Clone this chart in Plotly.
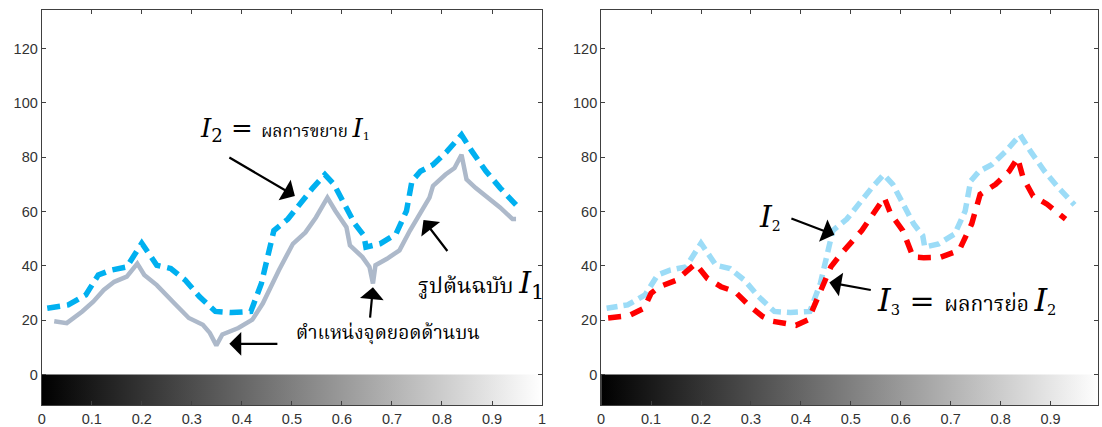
import plotly.graph_objects as go

# ---------------- data ----------------
x_i2 = [0.011, 0.053, 0.088, 0.113, 0.138, 0.170, 0.200, 0.230, 0.258, 0.287, 0.315,
        0.347, 0.379, 0.418, 0.439, 0.464, 0.492, 0.513, 0.541, 0.566, 0.584, 0.605,
        0.626, 0.644, 0.648, 0.676, 0.708, 0.729, 0.740, 0.757, 0.782, 0.810, 0.839,
        0.860, 0.888, 0.916, 0.948]
y_i2 = [24.4, 25.6, 29.3, 36.6, 38.4, 39.6, 48.3, 40.2, 39.0, 34.7, 28.7,
        23.2, 22.8, 23.2, 33.5, 53.0, 57.2, 62.1, 68.5, 73.6, 70.0, 62.7,
        55.4, 51.1, 46.9, 48.1, 51.7, 60.2, 71.2, 74.8, 77.2, 82.1, 88.2,
        82.1, 74.8, 68.7, 62.4]

x_i1 = [0.025, 0.050, 0.081, 0.103, 0.124, 0.145, 0.170, 0.191, 0.205, 0.230, 0.265,
        0.294, 0.322, 0.336, 0.349, 0.361, 0.393, 0.421, 0.442, 0.474, 0.502, 0.527,
        0.548, 0.571, 0.587, 0.609, 0.616, 0.641, 0.655, 0.662, 0.667, 0.690, 0.715,
        0.736, 0.775, 0.782, 0.807, 0.825, 0.839, 0.849, 0.867, 0.892, 0.916, 0.941,
        0.948]
y_i1 = [19.6, 18.9, 23.2, 26.8, 31.1, 34.1, 36.0, 40.8, 36.6, 32.9, 26.2,
        20.8, 18.3, 15.3, 10.7, 14.7, 17.1, 20.2, 26.2, 38.4, 48.1, 52.3,
        57.8, 65.1, 60.2, 54.2, 47.5, 43.2, 39.6, 33.5, 40.2, 42.6, 45.7,
        53.0, 65.1, 69.4, 73.6, 76.0, 80.9, 71.8, 68.7, 65.1, 61.5, 57.2,
        57.2]

x_i3 = [0.014, 0.055, 0.086, 0.100, 0.117, 0.151, 0.189, 0.213, 0.240, 0.268, 0.295,
        0.323, 0.343, 0.390, 0.415, 0.440, 0.460, 0.481, 0.522, 0.567, 0.580, 0.604,
        0.615, 0.625, 0.646, 0.680, 0.717, 0.742, 0.759, 0.790, 0.817, 0.834, 0.845,
        0.865, 0.893, 0.930]
y_i3 = [20.8, 21.6, 24.4, 29.9, 32.3, 34.7, 40.8, 35.3, 32.3, 30.5, 25.6,
        21.4, 19.6, 18.1, 20.2, 31.1, 39.6, 44.5, 53.0, 65.1, 59.0, 53.0,
        48.1, 43.2, 43.0, 43.2, 45.7, 55.4, 66.3, 70.0, 74.8, 79.7, 72.4,
        65.7, 62.7, 57.2]

y_ticks = [0, 20, 40, 60, 80, 100, 120]
x_ticks = [0, 0.1, 0.2, 0.3, 0.4, 0.5, 0.6, 0.7, 0.8, 0.9, 1]
x_tick_labels = ["0", "0.1", "0.2", "0.3", "0.4", "0.5", "0.6", "0.7", "0.8", "0.9", "1"]

bar_x = [0, 1, 1, 0]
bar_y = [0, 0, -12, -12]

# ---------------- styles ----------------
THAI = "Noto Serif Thai, Garuda, Loma, Kinnari, Norasi, Tlwg Typo, Noto Sans Thai, sans-serif"
SERIF = "DejaVu Serif, Liberation Serif, serif"
AXC = "#404040"

fig = go.Figure()

for xa, ya in (("x", "y"), ("x2", "y2")):
    fig.add_trace(go.Scatter(
        x=bar_x, y=bar_y, xaxis=xa, yaxis=ya, mode="none", fill="toself",
        fillgradient=dict(type="horizontal", colorscale=[[0, "#000000"], [1, "#ffffff"]]),
        hoverinfo="skip", showlegend=False))

# left panel
fig.add_trace(go.Scatter(x=x_i1, y=y_i1, mode="lines", xaxis="x", yaxis="y",
                         line=dict(color="#adb9ca", width=4.5), showlegend=False))
fig.add_trace(go.Scatter(x=x_i2, y=y_i2, mode="lines", xaxis="x", yaxis="y",
                         line=dict(color="#00b0f0", width=5.5, dash="13px,7px"), showlegend=False))
# right panel
fig.add_trace(go.Scatter(x=x_i2, y=y_i2, mode="lines", xaxis="x2", yaxis="y2",
                         line=dict(color="#9cdcf7", width=5.5, dash="11px,6px"), showlegend=False))
fig.add_trace(go.Scatter(x=x_i3, y=y_i3, mode="lines", xaxis="x2", yaxis="y2",
                         line=dict(color="#ff0000", width=5.5, dash="13px,10px"), showlegend=False))

axis_common = dict(showline=True, linecolor=AXC, linewidth=1, mirror="ticks",
                   ticks="inside", ticklen=4, tickcolor=AXC, showgrid=False,
                   zeroline=False, tickfont=dict(family="Arial, Liberation Sans", size=14.5, color="#333333"))

ydom = [1 - 409 / 427, 1 - 10 / 427]
yr = [-11.3, 134.2]

fig.update_layout(
    width=1102, height=427,
    margin=dict(l=0, r=0, t=0, b=0),
    paper_bgcolor="white", plot_bgcolor="white",
    xaxis=dict(domain=[38 / 1102, 542 / 1102], range=[0, 1], tickvals=x_ticks,
               ticktext=x_tick_labels, anchor="y", **axis_common),
    yaxis=dict(domain=ydom, range=yr, tickvals=y_ticks, anchor="x", **axis_common),
    xaxis2=dict(domain=[601.5 / 1102, 1], range=[0, 0.995], tickvals=x_ticks,
                ticktext=x_tick_labels, anchor="y2", **axis_common),
    yaxis2=dict(domain=ydom, range=yr, tickvals=y_ticks, anchor="x2", **axis_common),
)

def arrow(xref, yref, x, y, ax, ay):
    fig.add_annotation(x=x, y=y, ax=ax, ay=ay, xref=xref, yref=yref, axref=xref, ayref=yref,
                       text="", showarrow=True, arrowhead=1, arrowsize=1.8, arrowwidth=2.2,
                       arrowcolor="black")

def label(xref, yref, x, y, text):
    fig.add_annotation(x=x, y=y, xref=xref, yref=yref, text=text, showarrow=False,
                       xanchor="center", yanchor="middle",
                       font=dict(family=THAI, color="black", size=16))

def I(sub, size):
    # subscript drawn at 70% of the letter size, lowered
    return f"<span style='font-family:{SERIF};font-size:{size}px'><i>I</i><sub>{sub}</sub></span>"

def Itiny(sub, size, subsize):
    return (f"<span style='font-family:{SERIF};font-size:{size}px'><i>I</i></span>"
            f"<span style='font-family:{SERIF};font-size:{subsize * 1.43:.0f}px'><sub>{sub}</sub></span>")

# left annotations
label("x", "y", 0.487, 90.0,
      I("2", 26) + f"<span style='font-family:{SERIF};font-size:26px'> = </span>"
      + "<span style='font-size:17px'>ผลการขยาย </span>" + Itiny("1", 26, 11))
arrow("x", "y", 0.506, 65.7, 0.372, 80.2)
label("x", "y", 0.877, 33.0,
      "<span style='font-size:22px'>รูปต้นฉบับ </span>" + I("1", 30))
arrow("x", "y", 0.763, 56.9, 0.813, 44.9)
label("x", "y", 0.692, 15.0, "<span style='font-size:19px'>ตำแหน่งจุดยอดด้านบน</span>")
arrow("x", "y", 0.662, 32.1, 0.656, 20.4)
arrow("x", "y", 0.375, 11.3, 0.474, 11.3)

# right annotations
label("x2", "y2", 0.338, 58.0, Itiny("2", 30, 14))
arrow("x2", "y2", 0.467, 51.4, 0.378, 57.6)
label("x2", "y2", 0.732, 27.0,
      Itiny("3", 32, 15) + f"<span style='font-family:{SERIF};font-size:30px'> = </span>"
      + "<span style='font-size:21px'>ผลการย่อ </span>" + Itiny("2", 32, 15))
arrow("x2", "y2", 0.457, 33.9, 0.543, 31.0)

fig.write_html("out.html")
